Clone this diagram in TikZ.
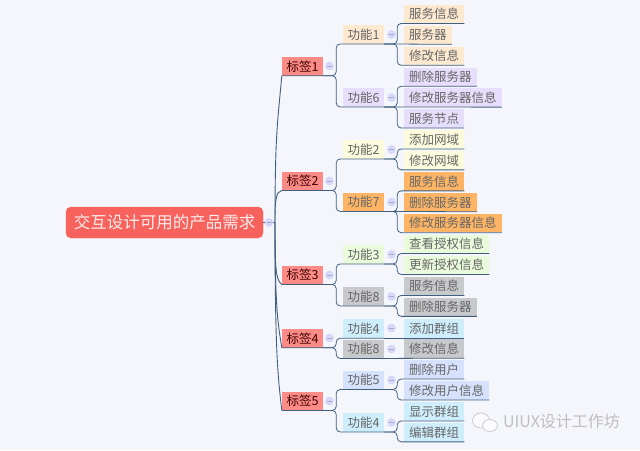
\documentclass[tikz,border=0pt]{standalone}
\usepackage{fontspec}
\setmainfont{Noto Sans CJK SC}
\definecolor{pagebg}{HTML}{F5F6FB}
\definecolor{linkcol}{HTML}{41607F}
\definecolor{rootcol}{HTML}{F8625D}
\definecolor{tagcol}{HTML}{FB8B86}
\definecolor{orangelt}{HTML}{FDE8D0}
\definecolor{purplelt}{HTML}{E6DEFB}
\definecolor{yellowlt}{HTML}{FCFBDD}
\definecolor{orangedk}{HTML}{FDB565}
\definecolor{greenlt}{HTML}{EAFBDC}
\definecolor{graylt}{HTML}{C8C9CC}
\definecolor{bluelt}{HTML}{CFEEFC}
\definecolor{periwinkle}{HTML}{D6E1FB}
\tikzset{
    rootbox/.style={rectangle, rounded corners=5pt, draw=rootcol!80!orange, fill=rootcol, text=white!88!rootcol,
        font=\fontsize{16.5}{19}\selectfont, minimum width=197pt, minimum height=31pt, inner sep=0pt},
    tagbox/.style={rectangle, fill=tagcol, text=black!75!red, font=\fontsize{12.5}{15}\selectfont,
        minimum width=41pt, minimum height=18.5pt, inner xsep=0pt, inner ysep=0pt},
    funcbox/.style={rectangle, text=black!60, font=\fontsize{12.5}{15}\selectfont,
        minimum width=41pt, minimum height=18.5pt, inner xsep=0pt, inner ysep=0pt},
    leafbox/.style={funcbox, anchor=west, minimum width=0pt, inner xsep=5pt},
    foldmark/.style={circle, fill=blue!12!pagebg, draw=blue!16!pagebg, minimum size=8pt, inner sep=0pt,
        path picture={\draw[linkcol!50, line width=0.5pt] ([xshift=1.5pt]path picture bounding box.west) -- ([xshift=-1.5pt]path picture bounding box.east);}},
    link/.style={draw=linkcol, line width=0.8pt, rounded corners=4pt},
    trunk/.style={draw=linkcol, line width=0.9pt},
    markline/.style={draw=gray!45, fill=white!60!pagebg, line width=0.7pt}
}
\begin{document}
\begin{tikzpicture}[x=1pt, y=-1pt]
    \fill[pagebg] (0, 0) rectangle (640, 450);

    % Root and tags
    \node (root) [rootbox] at (164.5, 222.5) {交互设计可用的产品需求};
    \coordinate (hub) at (275, 222.5);
    \node (tag1) [tagbox] at (302.5, 66.3) {标签1};
    \node (tag2) [tagbox] at (302.5, 181) {标签2};
    \node (tag3) [tagbox] at (302.5, 275) {标签3};
    \node (tag4) [tagbox] at (302.5, 338.3) {标签4};
    \node (tag5) [tagbox] at (302.5, 401) {标签5};

    % Functions
    \node (func1) [funcbox, fill=orangelt] at (363.5, 34.5) {功能1};
    \node (func6) [funcbox, fill=purplelt] at (363.5, 97.5) {功能6};
    \node (func2) [funcbox, fill=yellowlt] at (363.5, 149.5) {功能2};
    \node (func7) [funcbox, fill=orangedk] at (363.5, 202) {功能7};
    \node (func3) [funcbox, fill=greenlt] at (363.5, 254.5) {功能3};
    \node (func8) [funcbox, fill=graylt] at (363.5, 296.5) {功能8};
    \node (func4) [funcbox, fill=bluelt] at (363.5, 328.7) {功能4};
    \node (func9) [funcbox, fill=graylt] at (363.5, 349) {功能8};
    \node (func5) [funcbox, fill=periwinkle] at (363.5, 380) {功能5};
    \node (func10) [funcbox, fill=bluelt] at (363.5, 422.5) {功能4};

    % Leaves
    \node (leaf1) [leafbox, fill=orangelt] at (404, 14) {服务信息};
    \node (leaf2) [leafbox, fill=orangelt] at (404, 34.9) {服务器};
    \node (leaf3) [leafbox, fill=orangelt] at (404, 55.8) {修改信息};
    \node (leaf4) [leafbox, fill=purplelt] at (404, 76.8) {删除服务器};
    \node (leaf5) [leafbox, fill=purplelt] at (404, 97.7) {修改服务器信息};
    \node (leaf6) [leafbox, fill=purplelt] at (404, 118.6) {服务节点};
    \node (leaf7) [leafbox, fill=yellowlt] at (404, 139.5) {添加网域};
    \node (leaf8) [leafbox, fill=yellowlt] at (404, 160.4) {修改网域};
    \node (leaf9) [leafbox, fill=orangedk] at (404, 181.4) {服务信息};
    \node (leaf10) [leafbox, fill=orangedk] at (404, 202.3) {删除服务器};
    \node (leaf11) [leafbox, fill=orangedk] at (404, 223.2) {修改服务器信息};
    \node (leaf12) [leafbox, fill=greenlt] at (404, 244.1) {查看授权信息};
    \node (leaf13) [leafbox, fill=greenlt] at (404, 265) {更新授权信息};
    \node (leaf14) [leafbox, fill=graylt] at (404, 286) {服务信息};
    \node (leaf15) [leafbox, fill=graylt] at (404, 306.9) {删除服务器};
    \node (leaf16) [leafbox, fill=bluelt] at (404, 328.7) {添加群组};
    \node (leaf17) [leafbox, fill=graylt] at (404, 348.7) {修改信息};
    \node (leaf18) [leafbox, fill=periwinkle] at (404, 369.6) {删除用户};
    \node (leaf19) [leafbox, fill=periwinkle] at (404, 390.6) {修改用户信息};
    \node (leaf20) [leafbox, fill=bluelt] at (404, 411.5) {显示群组};
    \node (leaf21) [leafbox, fill=bluelt] at (404, 432.4) {编辑群组};

    % Edges from the root
    \draw[trunk] (root.east) -- (hub);
    \draw[trunk] (hub) .. controls +(0, -90) and +(-4, 45) .. (tag1.south west);
    \draw[trunk] (hub) .. controls +(0, -22) and +(-6, 1) .. (tag2.south west);
    \draw[trunk] (hub) .. controls +(0, 48) and +(-6, -5) .. (tag3.south west);
    \draw[trunk] (hub) .. controls +(0, 85) and +(-4, -25) .. (tag4.south west);
    \draw[trunk] (hub) .. controls +(0, 130) and +(-4, -35) .. (tag5.south west);

    % Edges from the tags
    \draw[link] (tag1.south west) -- (tag1.south east) -- ++(13, 0) |- (func1.south east);
    \draw[link] (tag1.south east) -- ++(13, 0) |- (func6.south east);
    \draw[link] (tag2.south west) -- (tag2.south east) -- ++(13, 0) |- (func2.south east);
    \draw[link] (tag2.south east) -- ++(13, 0) |- (func7.south east);
    \draw[link] (tag3.south west) -- (tag3.south east) -- ++(13, 0) |- (func3.south east);
    \draw[link] (tag3.south east) -- ++(13, 0) |- (func8.south east);
    \draw[link] (tag4.south west) -- (tag4.south east) -- ++(13, 0) |- (func4.south east);
    \draw[link] (tag4.south east) -- ++(13, 0) |- (func9.south east);
    \draw[link] (tag5.south west) -- (tag5.south east) -- ++(13, 0) |- (func5.south east);
    \draw[link] (tag5.south east) -- ++(13, 0) |- (func10.south east);

    % Edges from the functions
    \draw[link] (func1.south east) -- ++(13, 0) |- (leaf1.south east);
    \draw[link] (func1.south east) -- (leaf2.south east);
    \draw[link] (func1.south east) -- ++(13, 0) |- (leaf3.south east);
    \draw[link] (func6.south east) -- ++(13, 0) |- (leaf4.south east);
    \draw[link] (func6.south east) -- (leaf5.south east);
    \draw[link] (func6.south east) -- ++(13, 0) |- (leaf6.south east);
    \draw[link] (func2.south east) -- ++(13, 0) |- (leaf7.south east);
    \draw[link] (func2.south east) -- ++(13, 0) |- (leaf8.south east);
    \draw[link] (func7.south east) -- ++(13, 0) |- (leaf9.south east);
    \draw[link] (func7.south east) -- (leaf10.south east);
    \draw[link] (func7.south east) -- ++(13, 0) |- (leaf11.south east);
    \draw[link] (func3.south east) -- ++(13, 0) |- (leaf12.south east);
    \draw[link] (func3.south east) -- ++(13, 0) |- (leaf13.south east);
    \draw[link] (func8.south east) -- ++(13, 0) |- (leaf14.south east);
    \draw[link] (func8.south east) -- ++(13, 0) |- (leaf15.south east);
    \draw[link] (func4.south east) -- (leaf16.south east);
    \draw[link] (func9.south east) -- (leaf17.south east);
    \draw[link] (func5.south east) -- ++(13, 0) |- (leaf18.south east);
    \draw[link] (func5.south east) -- ++(13, 0) |- (leaf19.south east);
    \draw[link] (func10.south east) -- ++(13, 0) |- (leaf20.south east);
    \draw[link] (func10.south east) -- ++(13, 0) |- (leaf21.south east);

    % Fold marks
    \node (foldroot) [foldmark] at (269, 222.5) {};
    \node (foldtag1) [foldmark] at (329.5, 66) {};
    \node (foldtag2) [foldmark] at (329.5, 181) {};
    \node (foldtag3) [foldmark] at (329.5, 275) {};
    \node (foldtag4) [foldmark] at (329.5, 338) {};
    \node (foldtag5) [foldmark] at (329.5, 401) {};
    \node (foldfunc1) [foldmark] at (391.5, 34.5) {};
    \node (foldfunc6) [foldmark] at (391.5, 97.5) {};
    \node (foldfunc2) [foldmark] at (391.5, 149.5) {};
    \node (foldfunc7) [foldmark] at (391.5, 202) {};
    \node (foldfunc3) [foldmark] at (391.5, 254.5) {};
    \node (foldfunc8) [foldmark] at (391.5, 296.5) {};
    \node (foldfunc4) [foldmark] at (391.5, 328) {};
    \node (foldfunc9) [foldmark] at (391.5, 349) {};
    \node (foldfunc5) [foldmark] at (391.5, 380) {};
    \node (foldfunc10) [foldmark] at (391.5, 422.5) {};

    % Watermark
    \node (mark) [text=gray!50, font=\fontsize{16}{18}\selectfont, anchor=west, inner sep=0pt] at (503, 421.5) {UIUX设计工作坊};
    \draw[markline] (481, 420.5) ellipse (8.5 and 7.5);
    \draw[markline] (490, 425.5) ellipse (7.5 and 6);
\end{tikzpicture}
\end{document}
